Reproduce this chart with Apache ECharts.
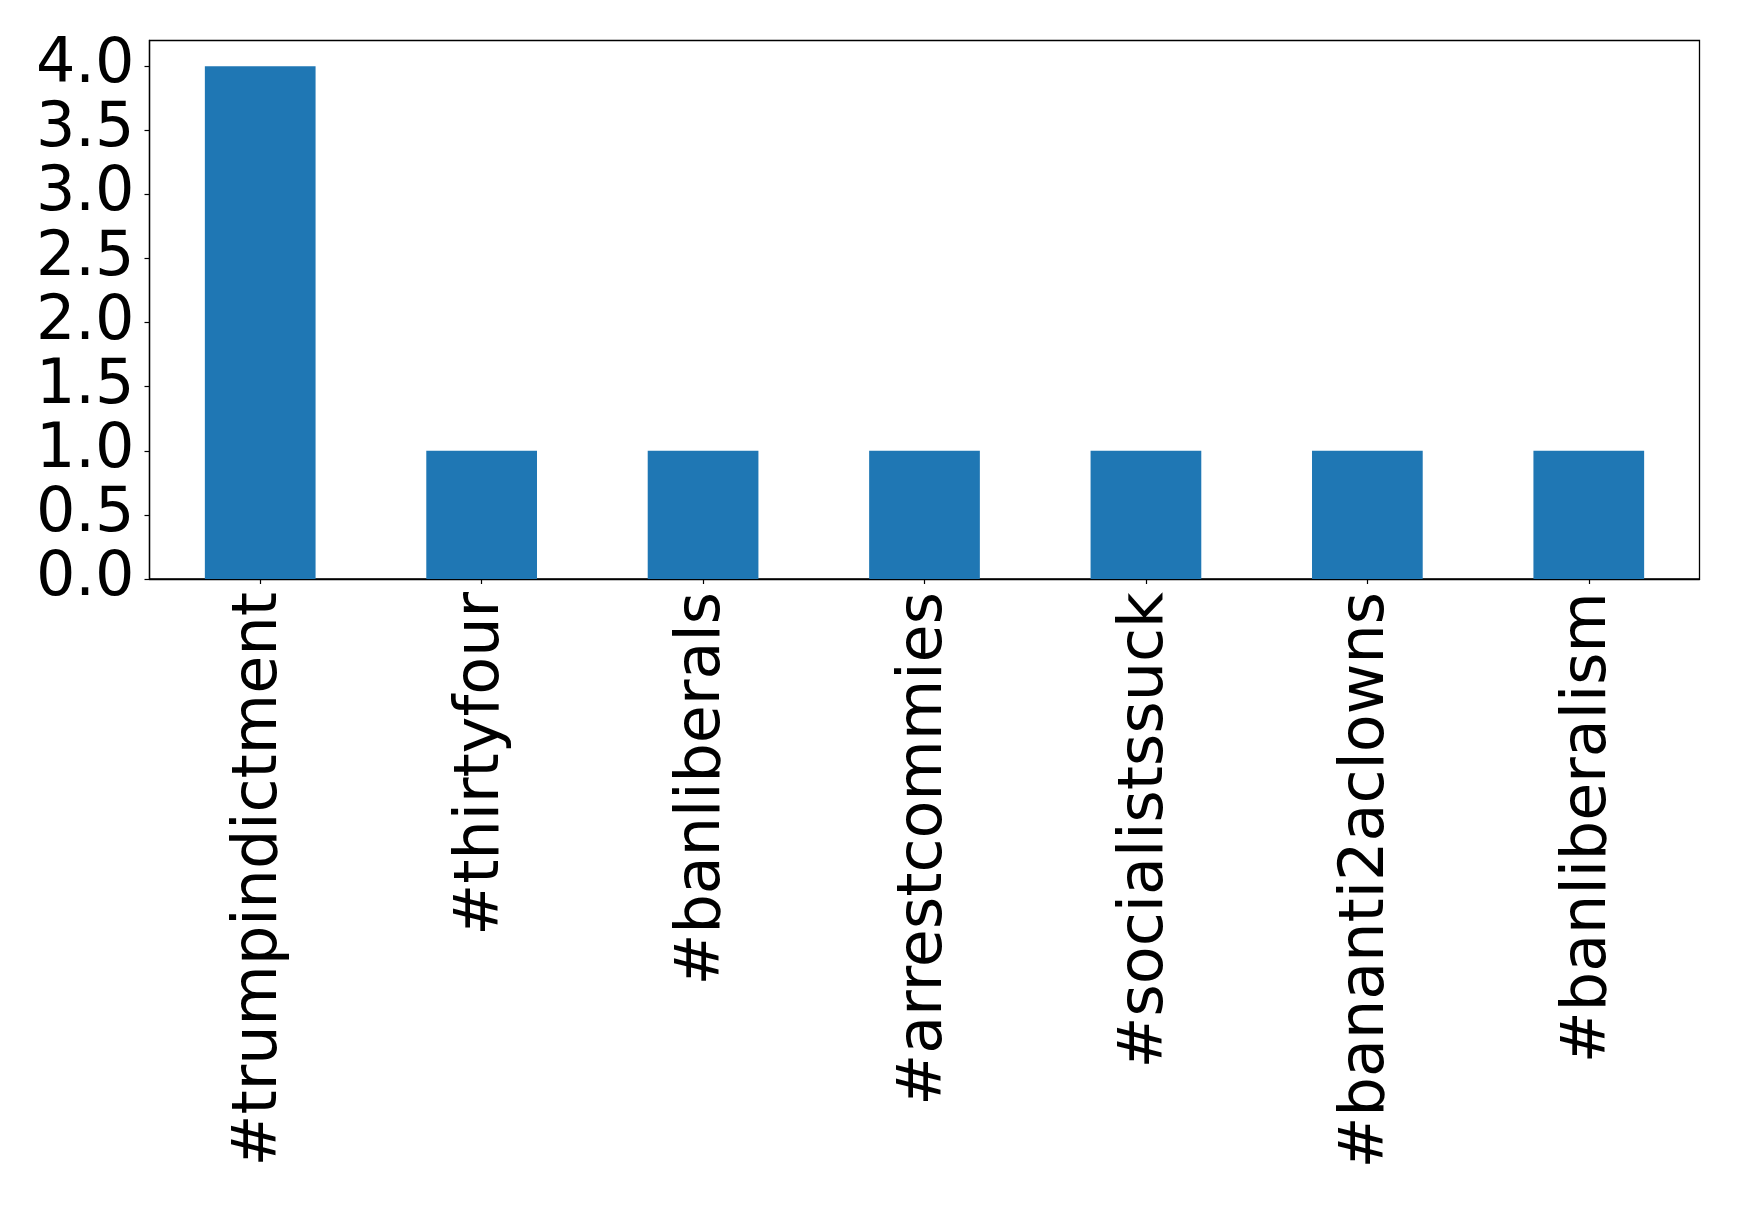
<!DOCTYPE html>
<html><head><meta charset="utf-8">
<script src="https://cdn.jsdelivr.net/npm/echarts@6/dist/echarts.min.js"></script>
<style>html,body{margin:0;padding:0;background:#fff}#c{width:1739px;height:1209px}</style>
</head><body><div id="c"></div>
<script>
const categories = ['#trumpindictment','#thirtyfour','#banliberals','#arrestcommies','#socialistssuck','#bananti2aclowns','#banliberalism'];
const counts = [4,1,1,1,1,1,1];
const yTicks = [0,0.5,1,1.5,2,2.5,3,3.5,4];
const font = 'DejaVu Sans';
const chart = echarts.init(document.getElementById('c'), null, {renderer:'canvas'});
chart.setOption({
  animation:false,
  backgroundColor:'#fff',
  grid:{left:149.5,top:40.5,width:1550,height:538.5,show:true,borderColor:'#000',borderWidth:1.3,containLabel:false},
  xAxis:{type:'category',data:categories,boundaryGap:true,
    axisLine:{show:true,lineStyle:{color:'#000',width:1.3}},
    axisTick:{show:true,alignWithLabel:true,length:5,lineStyle:{color:'#000',width:1.2}},
    axisLabel:{rotate:90,interval:0,margin:13,color:'#000',fontFamily:font,fontSize:62},
    splitLine:{show:false}},
  yAxis:{type:'value',min:0,max:4.2,
    axisLine:{show:true,lineStyle:{color:'#000',width:1.3}},
    axisTick:{show:true,length:5,customValues:yTicks,lineStyle:{color:'#000',width:1.2}},
    axisLabel:{customValues:yTicks,margin:15,color:'#000',fontFamily:font,fontSize:62,formatter:v=>v.toFixed(1)},
    splitLine:{show:false}},
  series:[{type:'bar',data:counts,barWidth:'50%',itemStyle:{color:'#1f77b4'}}]
});
</script></body></html>
